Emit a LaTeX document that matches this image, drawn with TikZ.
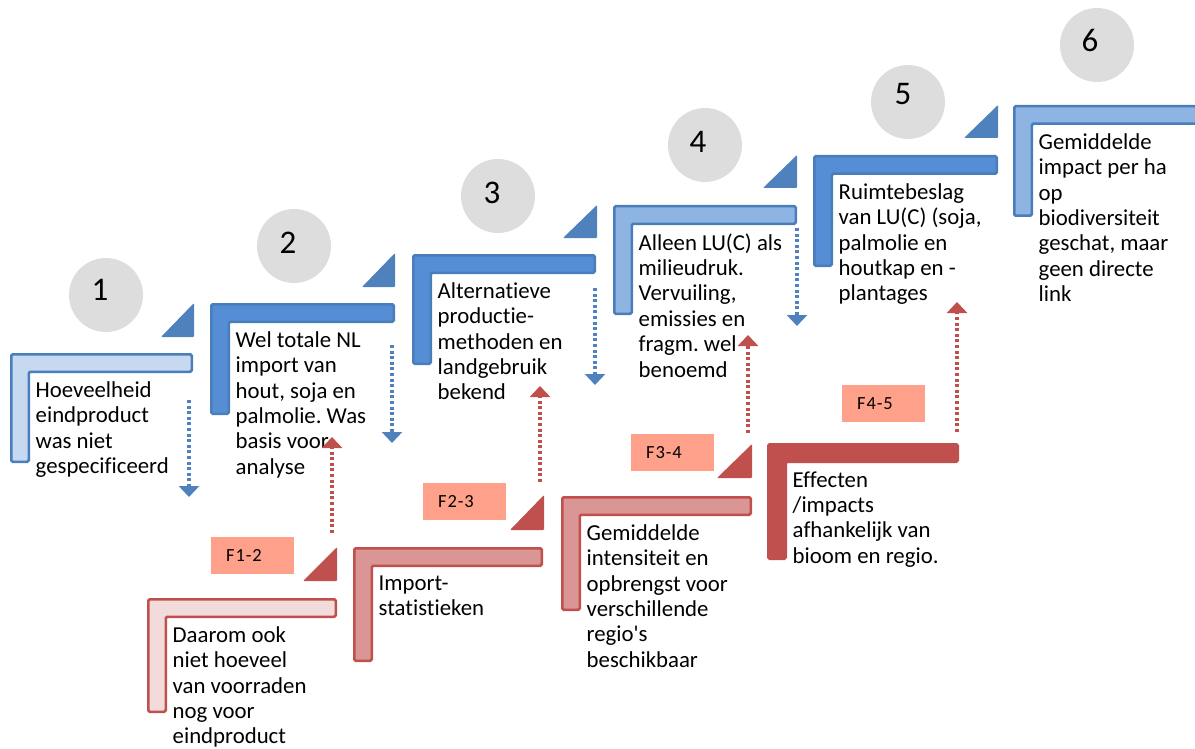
\documentclass[tikz,border=0pt]{standalone}
\usepackage{fontspec}
\setmainfont{Carlito}[Ligatures={CommonOff}]
\usetikzlibrary{arrows.meta}
\frenchspacing

\definecolor{bluedge}{HTML}{4A7EBB}
\definecolor{bluetri}{HTML}{4F81BD}
\definecolor{bluelight}{HTML}{C6D9F1}
\definecolor{bluemid}{HTML}{558ED5}
\definecolor{bluepale}{HTML}{8EB4E3}
\definecolor{rededge}{HTML}{C0504D}
\definecolor{redlight}{HTML}{F2DCDB}
\definecolor{redmid}{HTML}{D99694}
\definecolor{salmon}{HTML}{FFA08A}
\definecolor{disc}{HTML}{DDDDDD}

% L-shaped stair step: outer left, top, right, bottom, edge colour, fill colour
\newcommand{\stairstep}[6]{%
  \filldraw[stepline, draw=#5, fill=#6]
    (#1+1.25,#2+1.25) -- (#3-1.25,#2+1.25) -- (#3-1.25,#2+18.75)
    -- (#1+18.75,#2+18.75) -- (#1+18.75,#4-1.25) -- (#1+1.25,#4-1.25) -- cycle;}
% right-angled corner wedge: left x, bottom y, right x, top y, colour
\newcommand{\stairwedge}[5]{%
  \fill[#5, rounded corners=1pt] (#1,#2) -- (#3,#2) -- (#3,#4) -- cycle;}

\tikzset{
  stepline/.style={line width=2.5pt, rounded corners=1.5pt},
  steptext/.style={anchor=north west, align=left, inner sep=0pt,
    font=\fontsize{22.8}{25.4}\selectfont\frenchspacing, execute at begin node=\strut},
  disk/.style={circle, fill=disc, minimum size=74pt, inner sep=0pt},
  disknum/.style={inner sep=0pt, font=\fontsize{33}{36}\selectfont},
  flabel/.style={fill=salmon, minimum height=37pt, inner xsep=15pt, inner ysep=0pt,
    text width=53pt, align=left,
    font=\fontsize{18.5}{20}\selectfont\addfontfeature{LetterSpace=5}},
  dotline/.style={line width=3.4pt, dash pattern=on 3pt off 2.6pt,
    -{Triangle[width=20pt,length=11pt]}},
  bluearrow/.style={dotline, draw=bluetri},
  redarrow/.style={dotline, draw=rededge},
}

\begin{document}
\begin{tikzpicture}[x=1pt, y=-1pt]
\useasboundingbox (0,0) rectangle (1195,749);
\clip (0,0) rectangle (1195,749);

% numbered discs
\node[disk] (c1) at (106,295) {};
\node[disk] (c2) at (294,246) {};
\node[disk] (c3) at (498,196) {};
\node[disk] (c4) at (705,145) {};
\node[disk] (c5) at (908,102) {};
\node[disk] (c6) at (1097,45) {};
\node[disknum] (n1) at (100,290) {1};
\node[disknum] (n2) at (288,243) {2};
\node[disknum] (n3) at (492,193) {3};
\node[disknum] (n4) at (698,142) {4};
\node[disknum] (n5) at (903,94) {5};
\node[disknum] (n6) at (1090,40) {6};

% upper (blue) stairs
\stairstep{10}{353}{193}{463}{bluedge}{bluelight}
\stairstep{210}{303}{395}{415}{bluedge}{bluemid}
\stairstep{412}{254}{596}{365}{bluedge}{bluemid}
\stairstep{613}{205}{797}{315}{bluedge}{bluepale}
\stairstep{813}{155}{998}{267}{bluedge}{bluemid}
\stairstep{1013}{105}{1215}{217}{bluedge}{bluepale}
\stairwedge{161}{337}{194}{303}{bluetri}
\stairwedge{362}{287}{395}{253}{bluetri}
\stairwedge{563}{238}{597}{205}{bluetri}
\stairwedge{763}{188}{797}{155}{bluetri}
\stairwedge{964}{138}{998}{105}{bluetri}

% lower (red) stairs
\stairstep{147}{598}{337}{713}{rededge}{redlight}
\stairstep{353}{547}{543}{662}{rededge}{redmid}
\stairstep{561}{496}{752}{611}{rededge}{redmid}
\stairstep{767}{443}{959}{560}{rededge}{rededge}
\stairwedge{303}{581}{337}{547}{rededge}
\stairwedge{510}{530}{544}{495}{rededge}
\stairwedge{717}{478}{752}{444}{rededge}

% factor labels
\node[flabel, anchor=north west] (f12) at (211,537) {F1-2};
\node[flabel, anchor=north west] (f23) at (423,483) {F2-3};
\node[flabel, anchor=north west] (f34) at (631,434) {F3-4};
\node[flabel, anchor=north west] (f45) at (842,385) {F4-5};

% step texts
\node[steptext] (t1) at (35.5,381.2) {Hoeveelheid\\eindproduct\\was niet\\gespecificeerd};
\node[steptext] (t2) at (235.5,331.2) {Wel totale NL\\import van\\hout, soja en\\palmolie. Was\\basis voor\\analyse};
\node[steptext] (t3) at (437.5,282.2) {Alternatieve\\productie-\\methoden en\\landgebruik\\bekend};
\node[steptext] (t4) at (638.5,233.2) {Alleen LU(C) als\\milieudruk.\\Vervuiling,\\emissies en\\fragm. wel\\benoemd};
\node[steptext] (t5) at (838.5,183.2) {Ruimtebeslag\\van LU(C) (soja,\\palmolie en\\houtkap en -\\plantages};
\node[steptext] (t6) at (1038.5,133.2) {Gemiddelde\\impact per ha\\op\\biodiversiteit\\geschat, maar\\geen directe\\link};
\node[steptext] (r1) at (172.5,626.2) {Daarom ook\\niet hoeveel\\van voorraden\\nog voor\\eindproduct};
\node[steptext] (r2) at (378.5,575.2) {Import-\\statistieken};
\node[steptext] (r3) at (586.5,524.2) {Gemiddelde\\intensiteit en\\opbrengst voor\\verschillende\\regio\textquotesingle s\\beschikbaar};
\node[steptext] (r4) at (792.5,471.2) {Effecten\\/impacts\\afhankelijk van\\bioom en regio.};

% arrow end points
\coordinate (b1s) at (189,400); \coordinate (b1e) at (189,497);
\coordinate (b2s) at (392,345); \coordinate (b2e) at (392,443);
\coordinate (b3s) at (595,288); \coordinate (b3e) at (595,385);
\coordinate (b4s) at (797,228); \coordinate (b4e) at (797,326);
\coordinate (u1s) at (332,533); \coordinate (u1e) at (332,437);
\coordinate (u2s) at (540,482); \coordinate (u2e) at (540,386);
\coordinate (u3s) at (748,433); \coordinate (u3e) at (748,335);
\coordinate (u4s) at (957,432); \coordinate (u4e) at (957,302);

% downward (blue) and upward (red) dotted arrows
\draw[bluearrow] (b1s) -- (b1e);
\draw[bluearrow] (b2s) -- (b2e);
\draw[bluearrow] (b3s) -- (b3e);
\draw[bluearrow] (b4s) -- (b4e);
\draw[redarrow] (u1s) -- (u1e);
\draw[redarrow] (u2s) -- (u2e);
\draw[redarrow] (u3s) -- (u3e);
\draw[redarrow] (u4s) -- (u4e);
\end{tikzpicture}
\end{document}
